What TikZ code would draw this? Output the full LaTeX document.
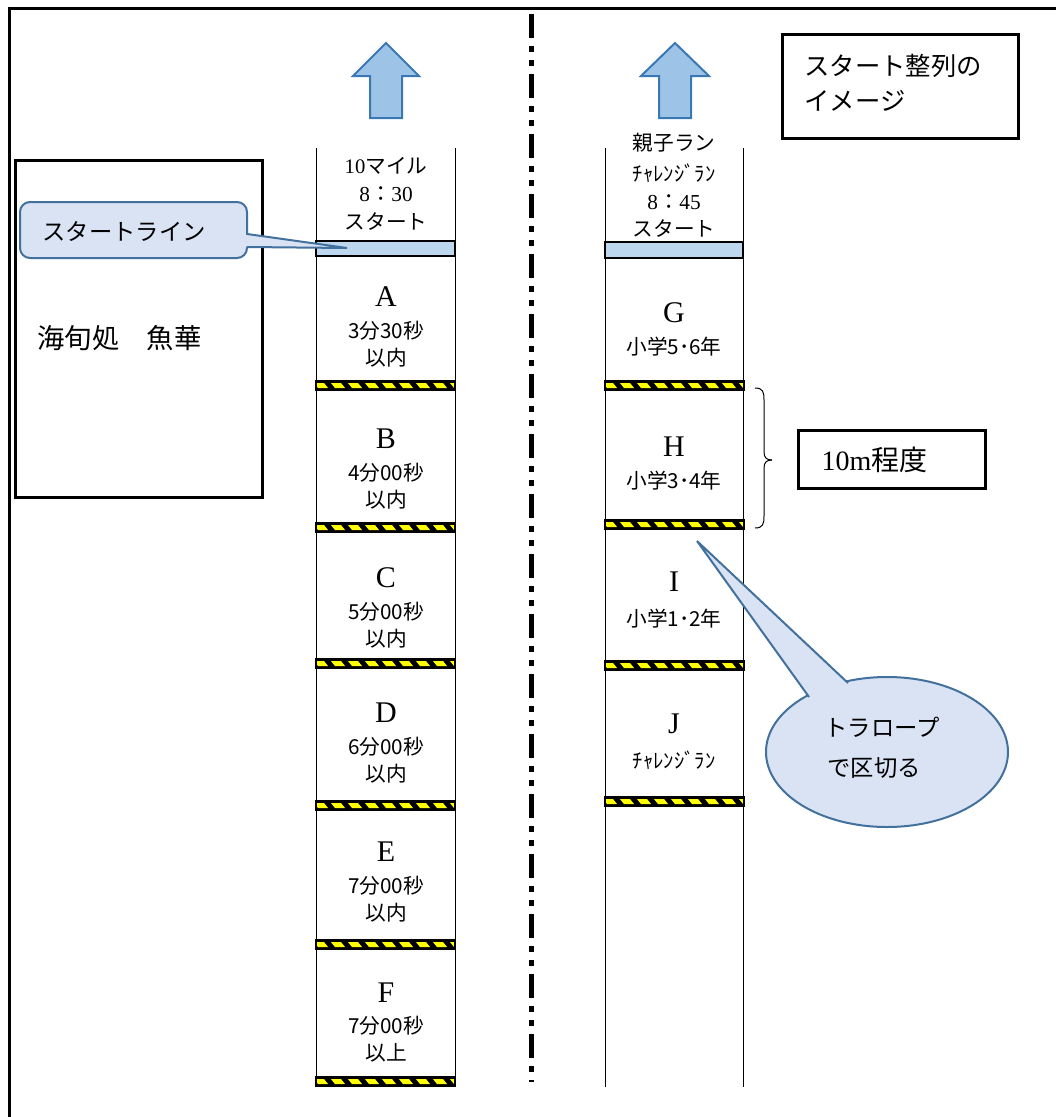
\documentclass[tikz,border=0pt]{standalone}
\usepackage{fontspec}
\setmainfont{Noto Sans CJK JP}
\newfontfamily\lat{Liberation Serif}

\definecolor{arrowfill}{HTML}{9DC3E6}
\definecolor{arrowline}{HTML}{3A78B5}
\definecolor{barfill}{HTML}{BDD7EE}
\definecolor{calloutfill}{HTML}{DAE3F3}
\definecolor{calloutline}{HTML}{41719C}
\definecolor{ropeyellow}{HTML}{FFFF00}

\tikzset{every picture/.style={line width=0.75pt}}
\tikzset{
  lanenote/.style={inner sep=0.75pt, font=\fontsize{15.5}{17}\selectfont},
  laneletter/.style={inner sep=0.75pt, font=\lat\fontsize{22.5}{25}\selectfont},
  lanetime/.style={inner sep=0.75pt, font=\fontsize{16}{18}\selectfont},
  bigtext/.style={inner sep=0.75pt, anchor=west, font=\fontsize{19}{22}\selectfont},
  thickbox/.style={draw=black, line width=2.25pt},
  callout/.style={draw=calloutline, fill=calloutfill, line width=1.5pt}
}

% rope between two blocks: lower left corner x, top y
\newcommand{\ropebar}[2]{%
  \begin{scope}
    \clip (#1,#2) rectangle ++(139,9);
    \fill[black] (#1,#2) rectangle ++(139,9);
    \foreach \s in {0,17,...,153}
      \fill[ropeyellow] (#1+\s-2,#2+2) -- ++(10,0) -- ++(4,5) -- ++(-10,0) -- cycle;
  \end{scope}
  \draw[line width=1.5pt] (#1,#2) rectangle ++(139,9);}

\begin{document}
\begin{tikzpicture}[x=0.75pt,y=0.75pt,yscale=-1,xscale=1]
\useasboundingbox (0,0) rectangle (1056,1117);

%Outer frame
\draw [line width=2.25pt]   (9,1117) -- (9,8) -- (1056,8) ;
%Dash dot divider
\draw [line width=3.75pt, dash pattern={on 18pt off 6pt on 4.5pt off 6pt on 4.5pt off 6pt}]   (531,14) -- (531,1082) ;

%Block arrows
\draw [draw=arrowline, fill=arrowfill, line width=1.5pt]   (386,43) -- (419,76) -- (402,76) -- (402,118) -- (370,118) -- (370,76) -- (353,76) -- cycle ;
\draw [draw=arrowline, fill=arrowfill, line width=1.5pt]   (675,43) -- (709,76) -- (691,76) -- (691,118) -- (659,118) -- (659,76) -- (641,76) -- cycle ;

%Lane lines
\draw   (316,148) -- (316,1087) ;
\draw   (455,148) -- (455,1087) ;
\draw   (605,148) -- (605,1087) ;
\draw   (743,148) -- (743,1087) ;

%Start lines
\draw [fill=barfill, line width=1.5pt]   (316,241) rectangle (455,256) ;
\draw [fill=barfill, line width=1.5pt]   (605,242) rectangle (743,258) ;

%Ropes
\ropebar{316}{381}
\ropebar{316}{523}
\ropebar{316}{659}
\ropebar{316}{801}
\ropebar{316}{940}
\ropebar{316}{1077}
\ropebar{605}{381}
\ropebar{605}{520}
\ropebar{605}{661}
\ropebar{605}{797}

%Shop box
\draw [thickbox]   (15,160) rectangle (262,497) ;
%Title box
\draw [thickbox]   (782,34) rectangle (1018,138) ;
%Distance box
\draw [thickbox]   (798,430) rectangle (985,488) ;

%Callout: start line
\coordinate (sttip) at (347,248) ;
\coordinate (stbaseA) at (247,234) ;
\coordinate (stbaseB) at (247,247) ;
\draw [callout, rounded corners=7.5pt]   (20,202) rectangle (247,258) ;
\fill [calloutfill]   (244,234.5) -- (sttip) -- (244,246.5) -- cycle ;
\draw [calloutline, line width=1.5pt]   (stbaseA) -- (sttip) -- (stbaseB) ;

%Callout: rope
\coordinate (ropetip) at (697,541) ;
\coordinate (ropebaseA) at (809,697) ;
\coordinate (ropebaseB) at (848,683) ;
\draw [callout]   (887,752) ellipse [x radius=121, y radius=75] ;
\fill [calloutfill]   (ropetip) -- (ropebaseA) -- (ropebaseB) -- cycle ;
\draw [calloutline, line width=1.5pt]   (ropebaseA) -- (ropetip) -- (ropebaseB) ;

%Brace
\draw   (755,388) .. controls (763,388) and (764,392) .. (764,400) -- (764,452) .. controls (764,458) and (767,460) .. (772,460) ;
\draw   (772,460) .. controls (767,460) and (764,462) .. (764,468) -- (764,516) .. controls (764,524) and (763,528) .. (755,528) ;

% Text Node
\draw (36,338) node [bigtext, font=\fontsize{20.5}{24}\selectfont] (shop) {海旬処　魚華};
% Text Node
\draw (803,66) node [bigtext] (titleA) {スタート整列の};
% Text Node
\draw (803,101) node [bigtext] (titleB) {イメージ};
% Text Node
\draw (820,460) node [bigtext, font=\fontsize{21}{24}\selectfont] (dist) {{\lat 10m}程度};
% Text Node
\draw (41,232) node [bigtext, font=\fontsize{17.5}{20}\selectfont] (stlabel) {スタートライン};
% Text Node
\draw (823,727) node [bigtext, font=\fontsize{17.5}{20}\selectfont] (ropeA) {トラロープ};
% Text Node
\draw (826,768) node [bigtext, font=\fontsize{17.5}{20}\selectfont] (ropeB) {で区切る};

% Text Node
\draw (386,166) node [lanenote] (mileA) {{\lat 10}マイル};
% Text Node
\draw (386,194) node [lanetime] (mileB) {{\lat 8}：{\lat 30}};
% Text Node
\draw (386,222) node [lanenote] (mileC) {スタート};
% Text Node
\draw (386,297) node [laneletter] (lA) {A};
% Text Node
\draw (386,331) node [lanenote] (tA) {3分30秒};
% Text Node
\draw (386,358) node [lanenote] (sA) {以内};
% Text Node
\draw (386,439) node [laneletter] (lB) {B};
% Text Node
\draw (386,473) node [lanenote] (tB) {4分00秒};
% Text Node
\draw (386,500) node [lanenote] (sB) {以内};
% Text Node
\draw (386,578) node [laneletter] (lC) {C};
% Text Node
\draw (386,612) node [lanenote] (tC) {5分00秒};
% Text Node
\draw (386,639) node [lanenote] (sC) {以内};
% Text Node
\draw (386,713) node [laneletter] (lD) {D};
% Text Node
\draw (386,747) node [lanenote] (tD) {6分00秒};
% Text Node
\draw (386,774) node [lanenote] (sD) {以内};
% Text Node
\draw (386,852) node [laneletter] (lE) {E};
% Text Node
\draw (386,886) node [lanenote] (tE) {7分00秒};
% Text Node
\draw (386,913) node [lanenote] (sE) {以内};
% Text Node
\draw (386,993) node [laneletter] (lF) {F};
% Text Node
\draw (386,1026) node [lanenote] (tF) {7分00秒};
% Text Node
\draw (386,1053) node [lanenote] (sF) {以上};

% Text Node
\draw (674,143) node [lanenote] (kidsA) {親子ラン};
% Text Node
\draw (674,173) node [lanenote] (kidsB) {ﾁｬﾚﾝｼﾞﾗﾝ};
% Text Node
\draw (674,202) node [lanetime] (kidsC) {{\lat 8}：{\lat 45}};
% Text Node
\draw (674,229) node [lanenote] (kidsD) {スタート};
% Text Node
\draw (674,313) node [laneletter] (lG) {G};
% Text Node
\draw (674,347) node [lanenote] (gG) {小学5･6年};
% Text Node
\draw (674,447) node [laneletter] (lH) {H};
% Text Node
\draw (674,481) node [lanenote] (gH) {小学3･4年};
% Text Node
\draw (674,582) node [laneletter] (lI) {I};
% Text Node
\draw (674,619) node [lanenote] (gI) {小学1･2年};
% Text Node
\draw (674,724) node [laneletter] (lJ) {J};
% Text Node
\draw (674,760) node [lanenote] (gJ) {ﾁｬﾚﾝｼﾞﾗﾝ};
\end{tikzpicture}
\end{document}
